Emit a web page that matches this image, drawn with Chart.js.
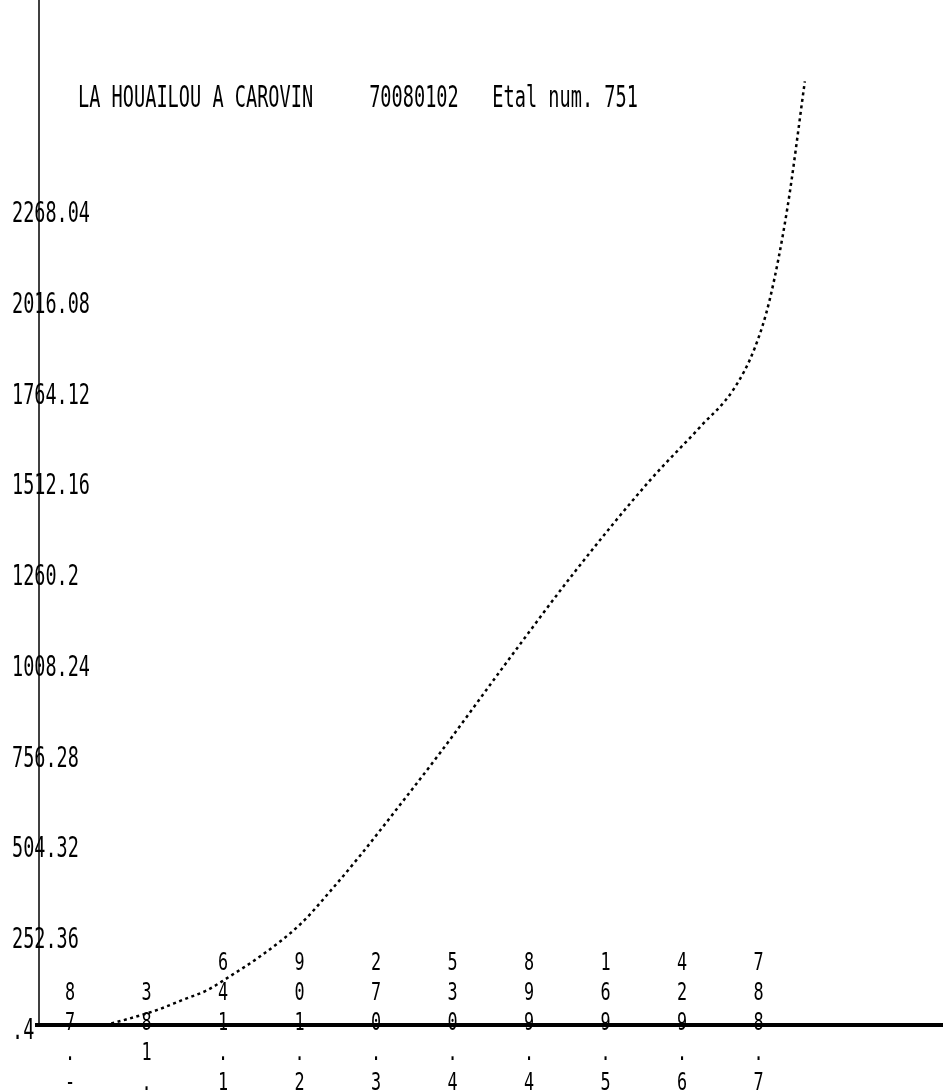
<!DOCTYPE html>
<html>
<head>
<meta charset="utf-8">
<script src="https://cdn.jsdelivr.net/npm/chart.js@4.4.1/dist/chart.umd.min.js"></script>
<style>
  html, body { margin: 0; padding: 0; background: #ffffff; }
  #wrap { width: 943px; height: 1090px; position: relative; }
</style>
</head>
<body>
<div id="wrap"><canvas id="c" width="943" height="1090"></canvas></div>
<script>
// Station header
const titleText = "LA HOUAILOU A CAROVIN     70080102   Etal num. 751";

// Stage axis (H) tick values and their printed labels
const stageTicks = [-0.78, 0.183, 1.146, 2.109, 3.072, 4.035, 4.998, 5.961, 6.924, 7.887];
const stageTickLabels = ["-.78", ".183", "1.146", "2.109", "3.072", "4.035", "4.998", "5.961", "6.924", "7.887"];

// Discharge axis (Q) tick values and their printed labels
const flowTicks = [0.4, 252.36, 504.32, 756.28, 1008.24, 1260.2, 1512.16, 1764.12, 2016.08, 2268.04];
const flowTickLabels = [".4", "252.36", "504.32", "756.28", "1008.24", "1260.2", "1512.16", "1764.12", "2016.08", "2268.04"];

// Rating curve: stage (m) -> discharge (m3/s)
const stage     = [-0.34, -0.03, 0.32, 0.63, 0.95, 1.23, 1.61, 2.12, 2.49, 2.87, 3.37, 3.88, 4.72, 5.58, 6.52, 7.15, 7.57, 7.84, 8.03, 8.25, 8.47];
const discharge = [0, 18, 42, 69, 97, 135, 190, 280, 370, 470, 610, 756, 1008, 1260, 1512, 1660, 1764, 1880, 2016, 2268, 2620];

const MONO = "'DejaVu Sans Mono', 'Liberation Mono', monospace";

function narrowText(ctx, text, x, y, size, sx, align) {
  ctx.save();
  ctx.font = size + "px " + MONO;
  ctx.textAlign = align || "left";
  ctx.textBaseline = "alphabetic";
  ctx.translate(x, y);
  ctx.scale(sx, 1);
  ctx.fillText(text, 0, 0);
  ctx.restore();
}

const plotterFrame = {
  id: "plotterFrame",
  afterDatasetsDraw(chart) {
    const ctx = chart.ctx;
    const xs = chart.scales.x, ys = chart.scales.y;
    const area = chart.chartArea;
    ctx.save();
    ctx.fillStyle = "#000";
    ctx.strokeStyle = "#000";

    // vertical axis
    ctx.lineWidth = 1.5;
    ctx.beginPath();
    ctx.moveTo(area.left - 1, 0);
    ctx.lineTo(area.left - 1, area.bottom + 2);
    ctx.stroke();

    // horizontal axis
    ctx.lineWidth = 4;
    ctx.beginPath();
    ctx.moveTo(area.left - 5, area.bottom);
    ctx.lineTo(area.right, area.bottom);
    ctx.stroke();

    // discharge labels straddling the vertical axis
    flowTicks.forEach((v, i) => {
      const py = ys.getPixelForValue(v) + 4;
      narrowText(ctx, flowTickLabels[i], 12, py + 10, 28, 0.66, "left");
    });

    // stage labels: characters stacked upward from the bottom
    stageTicks.forEach((v, i) => {
      const px = xs.getPixelForValue(v);
      const chars = stageTickLabels[i].split("");
      chars.forEach((ch, k) => {
        const cy = 1082 - k * 30;
        narrowText(ctx, ch, px, cy + 8, 24, 0.7, "center");
      });
    });

    // header
    narrowText(ctx, titleText, 78, 107, 30, 0.62, "left");
    ctx.restore();
  }
};

new Chart(document.getElementById("c"), {
  type: "line",
  data: {
    datasets: [{
      data: stage.map((h, i) => ({ x: h, y: discharge[i] })),
      borderColor: "#000",
      borderWidth: 2.5,
      borderDash: [3, 3.5],
      pointRadius: 0,
      fill: false,
      cubicInterpolationMode: "monotone",
      clip: false
    }]
  },
  options: {
    responsive: false,
    devicePixelRatio: 1,
    animation: false,
    layout: { padding: { left: 40, right: 0, top: 0, bottom: 65 } },
    plugins: { legend: { display: false }, tooltip: { enabled: false }, title: { display: false } },
    scales: {
      x: { type: "linear", min: -1.158, max: 10.209, display: false },
      y: { type: "linear", min: 0, max: 2845.8, display: false }
    }
  },
  plugins: [plotterFrame]
});
</script>
</body>
</html>
